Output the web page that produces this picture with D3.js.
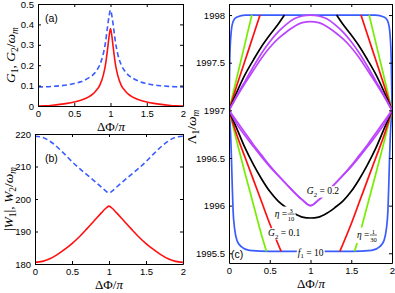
<!DOCTYPE html>
<html>
<head>
<meta charset="utf-8">
<script src="https://cdn.jsdelivr.net/npm/d3@7"></script>
<style>
body { margin: 0; background: #fff; }
.tick text { font-family: "Liberation Sans", Arial, sans-serif; font-size: 9.5px; fill: #000; }
.tick line, .domain { stroke: #000; }
.math { font-family: "Liberation Serif", "DejaVu Serif", serif; fill: #000; }
.plab { font-family: "Liberation Sans", Arial, sans-serif; font-size: 10.5px; }
</style>
</head>
<body>
<svg id="fig" width="395" height="293"></svg>
<script>
// ---- panel (a): coupling strengths
var phiA = [0, 0.1, 0.2, 0.3, 0.4, 0.5, 0.6, 0.7, 0.75, 0.8, 0.85, 0.9, 0.93, 0.96, 0.98, 1.0,
            1.02, 1.04, 1.07, 1.1, 1.15, 1.2, 1.25, 1.3, 1.4, 1.5, 1.6, 1.7, 1.8, 1.9, 2.0];
var g1 = [0, 0.001, 0.004, 0.008, 0.013, 0.02, 0.03, 0.045, 0.057, 0.075, 0.1, 0.15, 0.2, 0.28, 0.34, 0.38,
          0.34, 0.28, 0.2, 0.15, 0.1, 0.075, 0.057, 0.045, 0.03, 0.02, 0.013, 0.008, 0.004, 0.001, 0];
var g2 = [0.093, 0.094, 0.096, 0.099, 0.103, 0.11, 0.12, 0.138, 0.15, 0.17, 0.2, 0.255, 0.31, 0.39, 0.44, 0.47,
          0.44, 0.39, 0.31, 0.255, 0.2, 0.17, 0.15, 0.138, 0.12, 0.11, 0.103, 0.099, 0.096, 0.094, 0.093];

// ---- panel (b)
var phiB = [0, 0.1, 0.2, 0.3, 0.4, 0.5, 0.6, 0.7, 0.8, 0.9, 0.95, 1.0, 1.05, 1.1, 1.2, 1.3, 1.4, 1.5, 1.6, 1.7, 1.8, 1.9, 2.0];
var w1 = [180.5, 180.8, 181.6, 182.9, 184.5, 186.3, 188.4, 190.8, 193.3, 195.8, 197.0, 197.8,
          197.0, 195.8, 193.3, 190.8, 188.4, 186.3, 184.5, 182.9, 181.6, 180.8, 180.5];
var w2 = [219.3, 219.0, 217.8, 216.0, 213.8, 211.5, 209.4, 207.5, 205.6, 203.6, 202.6, 201.9,
          202.6, 203.6, 205.6, 207.5, 209.4, 211.5, 213.8, 216.0, 217.8, 219.0, 219.3];

var xTicks = [0, 0.5, 1, 1.5, 2];
var yTicksA = [0, 0.1, 0.2, 0.3, 0.4, 0.5];
var yTicksB = [180, 190, 200, 210, 220];
var yTicksC = [1995.5, 1996, 1996.5, 1997, 1997.5, 1998];

// ---- panel (c): left halves of each branch [dPhi/pi, Lambda1/wm]; right half is the mirror image
var blueUp = [[0,1997],[0.005,1997.3],[0.01,1997.55],[0.02,1997.75],[0.035,1997.88],[0.06,1997.95],[0.1,1997.98],[0.2,1998],[1,1998]];
var blueLo = [[0,1997],[0.02,1996.75],[0.03,1996.5],[0.04,1996.2],[0.05,1995.95],[0.07,1995.75],[0.1,1995.63],[0.15,1995.57],[0.25,1995.53],[0.5,1995.52],[1,1995.52]];
var greenUp = [[0,1997],[0.07,1997.25],[0.14,1997.5],[0.21,1997.75],[0.28,1998]];
var greenLo = [[0,1997],[0.1,1996.66],[0.2,1996.33],[0.3,1996.01],[0.4,1995.69],[0.46,1995.52]];
var redUp = [[0,1997],[0.1,1997.27],[0.2,1997.53],[0.3,1997.79],[0.38,1998]];
var redLo = [[0,1997],[0.1,1996.73],[0.2,1996.5],[0.3,1996.27],[0.4,1996.04],[0.5,1995.81],[0.64,1995.52]];
var blackUp = [[0,1997],[0.1,1997.2],[0.2,1997.38],[0.3,1997.53],[0.4,1997.67],[0.5,1997.79],[0.6,1997.9],[0.68,1998]];
var blackLo = [[0,1997],[0.1,1996.8],[0.2,1996.6],[0.3,1996.43],[0.4,1996.28],[0.5,1996.15],[0.6,1996.05],[0.7,1995.98],[0.8,1995.92],[0.9,1995.88],[1,1995.87]];
var purpleUpA = [[0,1997],[0.1,1997.16],[0.2,1997.31],[0.3,1997.46],[0.4,1997.6],[0.5,1997.72],[0.6,1997.82],[0.7,1997.9],[0.8,1997.96],[0.9,1997.99],[1,1998]];
var purpleUpB = [[0,1997],[0.1,1997.15],[0.2,1997.29],[0.3,1997.42],[0.4,1997.55],[0.5,1997.66],[0.6,1997.75],[0.7,1997.82],[0.8,1997.88],[0.9,1997.92],[1,1997.93]];
var purpleLoA = [[0,1997],[0.1,1996.85],[0.2,1996.73],[0.3,1996.62],[0.4,1996.51],[0.5,1996.41],[0.6,1996.32],[0.7,1996.23],[0.8,1996.14],[0.9,1996.06],[1,1996.0]];
var purpleLoB = [[0,1997],[0.1,1996.88],[0.2,1996.76],[0.3,1996.64],[0.4,1996.53],[0.5,1996.42],[0.6,1996.32],[0.7,1996.23],[0.8,1996.14],[0.9,1996.06],[1,1996.0]];

var BLUE = "#3a5cff", RED = "#ff1010", GREEN = "#77ee00", PURPLE = "#bb44ff";

var branches = [
  {pts: blueUp, c: BLUE}, {pts: blueLo, c: BLUE},
  {pts: greenUp, c: GREEN}, {pts: greenLo, c: GREEN},
  {pts: redUp, c: RED}, {pts: redLo, c: RED},
  {pts: blackUp, c: "#000"}, {pts: blackLo, c: "#000"},
  {pts: purpleUpA, c: PURPLE}, {pts: purpleUpB, c: PURPLE},
  {pts: purpleLoA, c: PURPLE}, {pts: purpleLoB, c: PURPLE}
];

var svg = d3.select("#fig");

function makePanel(id, box, yDom) {
  var x = d3.scaleLinear().domain([0, 2]).range([box.l, box.r]);
  var y = d3.scaleLinear().domain(yDom).range([box.b, box.t]);
  svg.append("clipPath").attr("id", id).append("rect")
    .attr("x", box.l).attr("y", box.t).attr("width", box.r - box.l).attr("height", box.b - box.t);
  var plot = svg.append("g").attr("clip-path", "url(#" + id + ")");
  return {x: x, y: y, box: box, plot: plot};
}

function drawAxes(p, yTicks) {
  var fmt = d3.format("~g"), b = p.box;
  svg.append("g").attr("transform", "translate(0," + b.b + ")")
    .call(d3.axisBottom(p.x).tickValues(xTicks).tickFormat(fmt).tickSizeInner(-3).tickSizeOuter(0).tickPadding(4));
  svg.append("g").attr("transform", "translate(0," + b.t + ")")
    .call(d3.axisTop(p.x).tickValues(xTicks).tickFormat("").tickSizeInner(-3).tickSizeOuter(0));
  svg.append("g").attr("transform", "translate(" + b.l + ",0)")
    .call(d3.axisLeft(p.y).tickValues(yTicks).tickFormat(fmt).tickSizeInner(-3).tickSizeOuter(0).tickPadding(4));
  svg.append("g").attr("transform", "translate(" + b.r + ",0)")
    .call(d3.axisRight(p.y).tickValues(yTicks).tickFormat("").tickSizeInner(-3).tickSizeOuter(0));
}

// math-ish text: parts = [text, kind] kind: i italic, r roman, s roman subscript, si italic subscript
function mathText(g, parts, size) {
  var t = g.append("text").attr("class", "math").attr("font-size", size);
  var sub = false;
  parts.forEach(function(pt) {
    var s = t.append("tspan").text(pt[0]);
    var isSub = pt[1] === "s" || pt[1] === "si";
    if (pt[1] === "i" || pt[1] === "si") s.attr("font-style", "italic");
    if (isSub) s.attr("font-size", size * 0.7);
    if (isSub && !sub) s.attr("dy", size * 0.25);
    if (!isSub && sub) s.attr("dy", -size * 0.25);
    sub = isSub;
  });
  return t;
}

function dphiLabel(cx, by) {
  var t = mathText(svg, [["\u0394\u03A6/", "r"], ["\u03C0", "i"]], 13);
  t.attr("x", cx).attr("y", by).attr("text-anchor", "middle");
}

var lineFn = function(p) {
  return d3.line().x(function(d) { return p.x(d[0]); }).y(function(d) { return p.y(d[1]); }).curve(d3.curveMonotoneX);
};

// ---------- (a)
var pa = makePanel("clipA", {l: 38, r: 183, t: 4, b: 106}, [0, 0.5]);
var la = lineFn(pa);
pa.plot.append("path").attr("d", la(phiA.map(function(v, i) { return [v, g2[i]]; })))
  .attr("fill", "none").attr("stroke", BLUE).attr("stroke-width", 1.6).attr("stroke-dasharray", "5,3");
pa.plot.append("path").attr("d", la(phiA.map(function(v, i) { return [v, g1[i]]; })))
  .attr("fill", "none").attr("stroke", RED).attr("stroke-width", 1.6);
drawAxes(pa, yTicksA);
svg.append("text").attr("class", "plab").attr("x", 45).attr("y", 22).text("(a)");
dphiLabel(111, 131);
mathText(svg, [["G", "i"], ["1", "s"], [", ", "r"], ["G", "i"], ["2", "s"], ["/", "r"], ["\u03C9", "i"], ["m", "si"]], 13.5)
  .attr("text-anchor", "middle").attr("transform", "translate(15,55) rotate(-90)");

// ---------- (b)
var pb = makePanel("clipB", {l: 35, r: 183, t: 134, b: 264}, [180, 220]);
var lb = lineFn(pb);
pb.plot.append("path").attr("d", lb(phiB.map(function(v, i) { return [v, w2[i]]; })))
  .attr("fill", "none").attr("stroke", BLUE).attr("stroke-width", 1.6).attr("stroke-dasharray", "5,3");
pb.plot.append("path").attr("d", lb(phiB.map(function(v, i) { return [v, w1[i]]; })))
  .attr("fill", "none").attr("stroke", RED).attr("stroke-width", 1.6);
drawAxes(pb, yTicksB);
svg.append("text").attr("class", "plab").attr("x", 45).attr("y", 162).text("(b)");
dphiLabel(109, 289);
mathText(svg, [["|", "r"], ["W", "i"], ["1", "s"], ["|, ", "r"], ["W", "i"], ["2", "s"], ["/", "r"], ["\u03C9", "i"], ["m", "si"]], 13.5)
  .attr("text-anchor", "middle").attr("transform", "translate(13,199) rotate(-90)");

// ---------- (c)
var pc = makePanel("clipC", {l: 229, r: 392, t: 4, b: 263}, [1995.398, 1998.116]);
var lc = lineFn(pc);
branches.forEach(function(br) {
  var left = br.pts;
  var right = left.slice().reverse().map(function(d) { return [2 - d[0], d[1]]; });
  var pieces = left[left.length - 1][0] >= 1 ? [left.concat(right.slice(1))] : [left, right];
  pieces.forEach(function(pts) {
    pc.plot.append("path").attr("d", lc(pts))
      .attr("fill", "none").attr("stroke", br.c).attr("stroke-width", 1.7);
  });
});

// annotations with white boxes
function boxed(g) {
  var bb = g.node().getBBox();
  g.insert("rect", ":first-child").attr("x", bb.x - 1).attr("y", bb.y).attr("width", bb.width + 2)
    .attr("height", bb.height).attr("fill", "#fff");
}
function annot(x, y, parts) {
  var g = svg.append("g").attr("transform", "translate(" + x + "," + y + ")");
  mathText(g, parts, 9.5);
  boxed(g);
  return g;
}
function fracAnnot(x, y, num, den) {
  var g = svg.append("g").attr("transform", "translate(" + x + "," + y + ")");
  var t = mathText(g, [["\u03B7", "i"], [" = ", "r"]], 9.5);
  var w = t.node().getComputedTextLength();
  g.append("text").attr("class", "math").attr("font-size", 6.5).attr("x", w + 4).attr("y", -4.5)
    .attr("text-anchor", "middle").text(num);
  g.append("text").attr("class", "math").attr("font-size", 6.5).attr("x", w + 4).attr("y", 4)
    .attr("text-anchor", "middle").text(den);
  g.append("line").attr("x1", w + 0.5).attr("x2", w + 7.5).attr("y1", -3).attr("y2", -3)
    .attr("stroke", "#000").attr("stroke-width", 0.6);
  boxed(g);
}
annot(pc.x(0.955), pc.y(1996.12), [["G", "i"], ["2", "s"], [" = 0.2", "r"]]);
fracAnnot(pc.x(0.56), pc.y(1995.88), "3", "10");
annot(pc.x(0.48), pc.y(1995.68), [["G", "i"], ["2", "s"], [" = 0.1", "r"]]);
fracAnnot(pc.x(1.57), pc.y(1995.66), "1", "30");
annot(pc.x(0.845), pc.y(1995.475), [["f", "i"], ["1", "s"], [" = 10", "r"]]);

drawAxes(pc, yTicksC);
svg.append("text").attr("class", "plab").attr("x", 231).attr("y", 258).text("(c)");
dphiLabel(311, 288);
mathText(svg, [["\u039B", "r"], ["1", "s"], ["/", "r"], ["\u03C9", "i"], ["m", "si"]], 13.5)
  .attr("text-anchor", "middle").attr("transform", "translate(196,127) rotate(-90)");
</script>
</body>
</html>
